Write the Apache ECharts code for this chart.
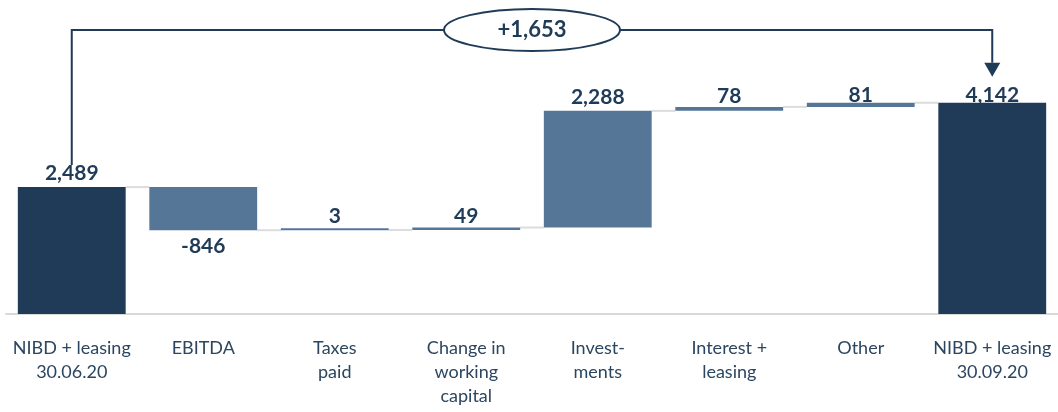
<!DOCTYPE html>
<html>
<head>
<meta charset="utf-8">
<script src="https://cdn.jsdelivr.net/npm/echarts@6/dist/echarts.min.js"></script>
<style>
  html, body { margin: 0; padding: 0; background: #ffffff; }
  #chart { width: 1058px; height: 412px; }
</style>
</head>
<body>
<div id="chart"></div>
<script>
// NIBD + leasing bridge, 30.06.20 -> 30.09.20
const categories = [
  'NIBD + leasing\n30.06.20',
  'EBITDA',
  'Taxes\npaid',
  'Change in\nworking\ncapital',
  'Invest-\nments',
  'Interest +\nleasing',
  'Other',
  'NIBD + leasing\n30.09.20'
];
const openingBalance = 2489;
const movements = [-846, 3, 49, 2288, 78, 81];
const closingBalance = 4142;

const NAVY = '#1f3b57';
const STEEL = '#557697';
const TEXT = '#2b4660';
const CONNECTOR = '#dcdcdc';
const FONT = 'Lato, "Open Sans", sans-serif';

// Build the waterfall: an invisible base plus a visible segment per column
const signed = [openingBalance].concat(movements, [closingBalance]);
const base = [];
const segment = [];
const levels = []; // running total after each column
let running = openingBalance;
base.push(0); segment.push(openingBalance); levels.push(running);
movements.forEach(v => {
  const next = running + v;
  base.push(Math.min(running, next));
  segment.push(Math.abs(v));
  running = next;
  levels.push(running);
});
base.push(0); segment.push(closingBalance); levels.push(closingBalance);

const fmt = v => (v < 0 ? '-' : '') + Math.abs(v).toString().replace(/\B(?=(\d{3})+(?!\d))/g, ',');

const BAR_RATIO = 0.82;
// label offsets: the last few labels sit on a common line near the top
const labelDistance = [3, 6, 1, 1, 3, 0, -3, -3];

const chart = echarts.init(document.getElementById('chart'), null, { renderer: 'canvas' });

const segmentData = segment.map((v, i) => {
  const isTotal = i === 0 || i === segment.length - 1;
  const neg = signed[i] < 0;
  return {
    value: v,
    itemStyle: { color: isTotal ? NAVY : STEEL },
    label: {
      position: neg ? 'bottom' : 'top',
      distance: labelDistance[i]
    }
  };
});

chart.setOption({
  animation: false,
  grid: { left: 6, right: -2, top: 8, bottom: 98 },
  xAxis: {
    type: 'category',
    data: categories,
    axisTick: { show: false },
    axisLine: { show: true, lineStyle: { color: '#d9d9d9', width: 2 } },
    axisLabel: {
      interval: 0,
      margin: 22,
      color: TEXT,
      fontFamily: FONT,
      fontSize: 18,
      lineHeight: 24,
      align: 'center'
    }
  },
  yAxis: {
    type: 'value',
    min: 0,
    max: 6000,
    show: false,
    splitLine: { show: false }
  },
  series: [
    {
      name: 'base',
      type: 'bar',
      stack: 'bridge',
      data: base,
      barWidth: (BAR_RATIO * 100) + '%',
      itemStyle: { color: 'transparent' },
      silent: true
    },
    {
      name: 'movement',
      type: 'bar',
      stack: 'bridge',
      data: segmentData,
      barWidth: (BAR_RATIO * 100) + '%',
      barMinHeight: 2,
      label: {
        show: true,
        color: NAVY,
        fontFamily: FONT,
        fontWeight: 'bold',
        fontSize: 21,
        formatter: p => fmt(signed[p.dataIndex])
      },
      z: 3
    },
    {
      // Light connectors bridging the gap between neighbouring columns
      name: 'connectors',
      type: 'custom',
      data: levels.slice(0, -1).map((lv, i) => [i, lv]),
      renderItem: (params, api) => {
        const i = api.value(0);
        const lv = api.value(1);
        const band = api.size([1, 0])[0];
        const half = band * BAR_RATIO / 2;
        const p0 = api.coord([i, lv]);
        const p1 = api.coord([i + 1, lv]);
        return {
          type: 'line',
          shape: { x1: p0[0] + half, y1: p0[1], x2: p1[0] - half, y2: p1[1] },
          style: { stroke: CONNECTOR, lineWidth: 2 }
        };
      },
      silent: true,
      z: 1
    }
  ]
});

// Bracket with the net change between opening and closing balance
const last = categories.length - 1;
const pStart = chart.convertToPixel({ gridIndex: 0 }, [0, openingBalance]);
const pEnd = chart.convertToPixel({ gridIndex: 0 }, [last, closingBalance]);
const railY = 30;
const startY = pStart[1] - 22;
const tipY = pEnd[1] - 26;
const headH = 14, headW = 8;
const midX = (pStart[0] + pEnd[0]) / 2;
const delta = closingBalance - openingBalance;

chart.setOption({
  graphic: [
    {
      type: 'polyline',
      shape: { points: [[pStart[0], startY], [pStart[0], railY], [pEnd[0], railY], [pEnd[0], tipY - headH]] },
      style: { stroke: NAVY, lineWidth: 2, fill: null },
      z: 10
    },
    {
      type: 'polygon',
      shape: { points: [[pEnd[0] - headW, tipY - headH], [pEnd[0] + headW, tipY - headH], [pEnd[0], tipY]] },
      style: { fill: NAVY },
      z: 10
    },
    {
      type: 'ellipse',
      shape: { cx: midX, cy: railY, rx: 88, ry: 21 },
      style: { fill: '#ffffff', stroke: NAVY, lineWidth: 2 },
      z: 11
    },
    {
      type: 'text',
      x: midX,
      y: railY,
      style: {
        text: (delta >= 0 ? '+' : '') + fmt(delta),
        fill: NAVY,
        font: 'bold 22px ' + FONT,
        align: 'center',
        verticalAlign: 'middle'
      },
      z: 12
    }
  ]
});
</script>
</body>
</html>
